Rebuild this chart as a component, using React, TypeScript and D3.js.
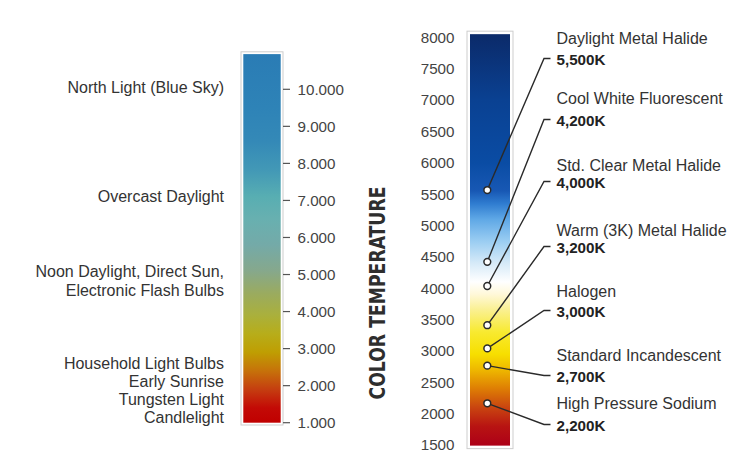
import React from "react";
import * as d3 from "d3";

// ---------- Data ----------
// Left scale: color temperature ticks (Kelvin)
const leftTicks = [1000, 2000, 3000, 4000, 5000, 6000, 7000, 8000, 9000, 10000];
const leftTickLabels = ["1.000", "2.000", "3.000", "4.000", "5.000", "6.000", "7.000", "8.000", "9.000", "10.000"];
const leftBarRange = [1000, 10950];
const leftGradientTemps = [1000, 1400, 1900, 2400, 2900, 3400, 3900, 4500, 5100, 5800, 6500, 7100, 7800, 8600, 9500, 10950];
const leftGradientColors = ["#c00000", "#c30a06", "#c53e10", "#c6720a", "#bf9e02", "#b7ad1a", "#aab03c", "#9aab60", "#86a88c", "#74aaa8", "#68b0b0", "#58aeb2", "#4399b6", "#3489b7", "#2e83b7", "#2a7cb5"];

// Left descriptive labels (approx. temperature of each label block)
const leftLabelTemps = [10050, 7100, 4830, 1880];
const leftLabelLines = [
  ["North Light (Blue Sky)"],
  ["Overcast Daylight"],
  ["Noon Daylight, Direct Sun,", "Electronic Flash Bulbs"],
  ["Household Light Bulbs", "Early Sunrise", "Tungsten Light", "Candlelight"],
];

// Right scale
const rightTicks = [1500, 2000, 2500, 3000, 3500, 4000, 4500, 5000, 5500, 6000, 6500, 7000, 7500, 8000];
const rightBarRange = [1490, 8050];
const rightGradientTemps = [1490, 1800, 2100, 2400, 2700, 2950, 3300, 3650, 3900, 4100, 4400, 4750, 5100, 5350, 5550, 6000, 7000, 8050];
const rightGradientColors = ["#ad0018", "#b81412", "#c94510", "#de7e04", "#eeb800", "#f7df00", "#f8ea30", "#faf090", "#fff8d8", "#ffffff", "#d6eaf8", "#9acdf2", "#5fa8e6", "#2f7cd0", "#1858b4", "#0a4ca4", "#0a4192", "#0b2a69"];

// Lamps
const lampNames = [
  "Daylight Metal Halide",
  "Cool White Fluorescent",
  "Std. Clear Metal Halide",
  "Warm (3K) Metal Halide",
  "Halogen",
  "Standard Incandescent",
  "High Pressure Sodium",
];
const lampValueLabels = ["5,500K", "4,200K", "4,000K", "3,200K", "3,000K", "2,700K", "2,200K"];
// marker positions as drawn on the bar
const lampMarkerTemps = [5565, 4420, 4035, 3410, 3040, 2765, 2165];

const axisTitle = "COLOR TEMPERATURE";

// ---------- Layout ----------
const W = 742;
const H = 466;
const FONT = "'Liberation Sans', Arial, Helvetica, sans-serif";
const lampNameY = [44, 104, 171, 236, 297, 361, 409];
const lampValueY = [65, 126, 188, 253, 317, 382, 431];

export default function App() {
  const yL = d3.scaleLinear().domain([1000, 10000]).range([422.7, 89.3]);
  const yR = d3.scaleLinear().domain([1500, 8000]).range([445, 37.3]);

  const lBar = { x: 243.3, w: 37.4 };
  const rBar = { x: 470, w: 40 };

  const lTop = yL(leftBarRange[1]);
  const lBot = yL(leftBarRange[0]);
  const rTop = yR(rightBarRange[1]);
  const rBot = yR(rightBarRange[0]);

  const lOff = (t: number) => (leftBarRange[1] - t) / (leftBarRange[1] - leftBarRange[0]);
  const rOff = (t: number) => (rightBarRange[1] - t) / (rightBarRange[1] - rightBarRange[0]);

  const leftStops = leftGradientTemps.map((t, i) => ({ t, c: leftGradientColors[i] })).sort((a, b) => b.t - a.t);
  const rightStops = rightGradientTemps.map((t, i) => ({ t, c: rightGradientColors[i] })).sort((a, b) => b.t - a.t);

  const lineGen = d3.line<[number, number]>();
  const dotX = rBar.x + 17.3;

  return (
    <div style={{ position: "absolute", left: 0, top: 0 }}>
      <svg width={W} height={H} style={{ display: "block", background: "#fff" }} fontFamily={FONT}>
        <defs>
          <linearGradient id="gL" x1="0" y1="0" x2="0" y2="1">
            {leftStops.map((s, i) => (
              <stop key={i} offset={lOff(s.t)} stopColor={s.c} />
            ))}
          </linearGradient>
          <linearGradient id="gR" x1="0" y1="0" x2="0" y2="1">
            {rightStops.map((s, i) => (
              <stop key={i} offset={rOff(s.t)} stopColor={s.c} />
            ))}
          </linearGradient>
        </defs>
        <rect width={W} height={H} fill="#fff" />

        {/* Left bar */}
        <rect x={lBar.x - 2.3} y={lTop - 2.3} width={lBar.w + 4.6} height={lBot - lTop + 4.6} fill="#fff" stroke="#cdcdcd" strokeWidth={1} />
        <rect x={lBar.x} y={lTop} width={lBar.w} height={lBot - lTop} fill="url(#gL)" />
        {leftTicks.map((t, i) => (
          <g key={t}>
            <line x1={lBar.x + lBar.w + 2.3} x2={290} y1={yL(t)} y2={yL(t)} stroke="#555" strokeWidth={1.2} />
            <text x={297.5} y={yL(t)} dy="0.36em" fontSize={15.2} fill="#444">
              {leftTickLabels[i]}
            </text>
          </g>
        ))}
        {leftLabelLines.map((lines, i) => {
          const c = yL(leftLabelTemps[i]);
          const lh = 18.2;
          const start = c - ((lines.length - 1) * lh) / 2;
          return (
            <text key={i} textAnchor="end" fontSize={16} fill="#333">
              {lines.map((ln, j) => (
                <tspan key={j} x={224} y={start + j * lh} dy="0.36em">
                  {ln}
                </tspan>
              ))}
            </text>
          );
        })}

        {/* Axis title */}
        <text
          transform={`translate(385,293) rotate(-90)`}
          textAnchor="middle"
          fontSize={21}
          fontWeight="bold"
          fill="#2e2e2e"
          fontFamily="'DejaVu Sans Condensed', 'DejaVu Sans', sans-serif"
          style={{ fontStretch: "condensed" }}
          textLength={213}
          lengthAdjust="spacingAndGlyphs"
        >
          {axisTitle}
        </text>

        {/* Right bar */}
        <rect x={rBar.x - 3} y={rTop - 3} width={rBar.w + 6} height={rBot - rTop + 6} fill="#fff" stroke="#cdcdcd" strokeWidth={1} />
        <rect x={rBar.x} y={rTop} width={rBar.w} height={rBot - rTop} fill="url(#gR)" />
        {rightTicks.map((t) => (
          <text key={t} x={454.5} y={yR(t)} dy="0.36em" textAnchor="end" fontSize={15.2} fill="#444">
            {t}
          </text>
        ))}

        {/* Lamp leaders and labels */}
        {lampNames.map((name, i) => {
          const dy = yR(lampMarkerTemps[i]);
          const ly = lampValueY[i] - 6.5;
          const path = lineGen([
            [dotX, dy],
            [544, ly],
            [550.5, ly],
          ]);
          return (
            <g key={name}>
              <path d={path || ""} fill="none" stroke="#2a2a2a" strokeWidth={1.4} />
              <circle cx={dotX} cy={dy} r={3.4} fill="#fff" stroke="#2a2a2a" strokeWidth={1.5} />
              <text x={556.5} y={lampNameY[i]} fontSize={16} fill="#333">
                {name}
              </text>
              <text x={556.5} y={lampValueY[i]} fontSize={15.2} fontWeight="bold" fill="#222">
                {lampValueLabels[i]}
              </text>
            </g>
          );
        })}
      </svg>
    </div>
  );
}
